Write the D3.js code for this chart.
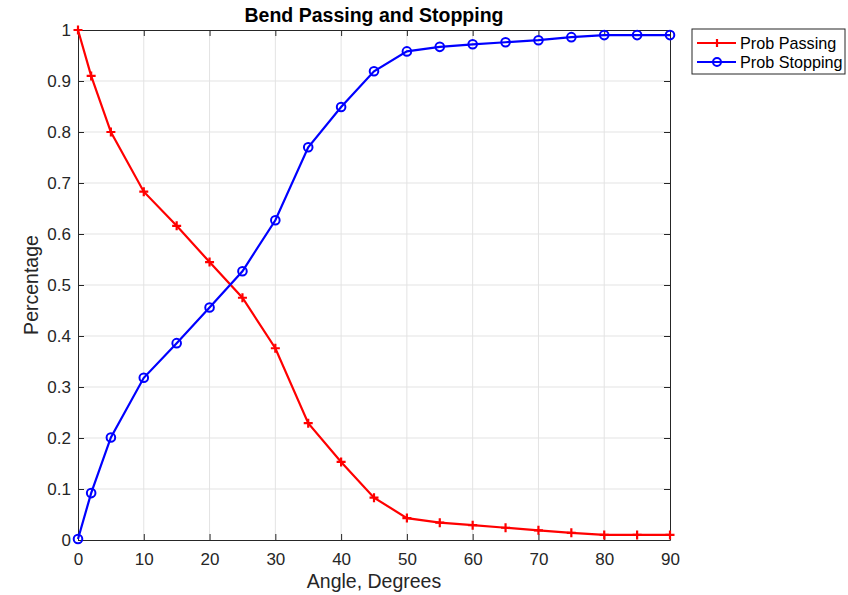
<!DOCTYPE html>
<html>
<head>
<meta charset="utf-8">
<script src="https://cdn.jsdelivr.net/npm/d3@7"></script>
<style>
  body { margin: 0; background: #fff; }
  svg { font-family: "Liberation Sans", Arial, sans-serif; }
</style>
</head>
<body>
<div id="chart"></div>
<script>
// data
var angles = [0, 2, 5, 10, 15, 20, 25, 30, 35, 40, 45, 50, 55, 60, 65, 70, 75, 80, 85, 90];
var probPassing = [1, 0.91, 0.80, 0.683, 0.616, 0.545, 0.475, 0.376, 0.229, 0.153, 0.083, 0.043, 0.034, 0.029, 0.024, 0.019, 0.014, 0.01, 0.01, 0.01];
var probStopping = [0.002, 0.092, 0.201, 0.318, 0.386, 0.456, 0.527, 0.627, 0.770, 0.849, 0.919, 0.958, 0.967, 0.972, 0.976, 0.980, 0.986, 0.990, 0.990, 0.990];
var xTicks = [0, 10, 20, 30, 40, 50, 60, 70, 80, 90];
var yTicks = [0, 0.1, 0.2, 0.3, 0.4, 0.5, 0.6, 0.7, 0.8, 0.9, 1];
var seriesNames = ["Prob Passing", "Prob Stopping"];

var margin = {top: 30, right: 178, bottom: 55, left: 78},
    width = 848 - margin.left - margin.right,
    height = 595 - margin.top - margin.bottom;

var svg = d3.select("#chart")
  .append("svg")
    .attr("width", 848)
    .attr("height", 595);

var g = svg.append("g")
    .attr("transform", "translate(" + margin.left + "," + margin.top + ")");

var x = d3.scaleLinear().domain([0, 90]).range([0, width]);
var y = d3.scaleLinear().domain([0, 1]).range([height, 0]);

// grid
g.append("g").selectAll("line")
  .data(xTicks.slice(1, -1))
  .enter().append("line")
    .attr("x1", function(d) { return x(d); })
    .attr("x2", function(d) { return x(d); })
    .attr("y1", 0).attr("y2", height)
    .attr("stroke", "#e3e3e3").attr("stroke-width", 1);
g.append("g").selectAll("line")
  .data(yTicks.slice(1, -1))
  .enter().append("line")
    .attr("y1", function(d) { return y(d); })
    .attr("y2", function(d) { return y(d); })
    .attr("x1", 0).attr("x2", width)
    .attr("stroke", "#e3e3e3").attr("stroke-width", 1);

// axes (MATLAB style, ticks inside)
function styleAxis(sel) {
  sel.selectAll("text").attr("fill", "#262626").style("font-size", "17px");
  sel.selectAll("line").attr("stroke", "#262626");
  sel.select(".domain").attr("stroke", "#262626");
}

g.append("g")
  .attr("transform", "translate(0," + height + ")")
  .call(d3.axisBottom(x).tickValues(xTicks).tickSizeInner(-6).tickSizeOuter(0).tickPadding(13))
  .call(styleAxis);
g.append("g")
  .call(d3.axisTop(x).tickValues(xTicks).tickSizeInner(-6).tickSizeOuter(0).tickFormat(""))
  .call(styleAxis);
g.append("g")
  .call(d3.axisLeft(y).tickValues(yTicks).tickSizeInner(-6).tickSizeOuter(0).tickPadding(7).tickFormat(d3.format("")))
  .call(styleAxis);
g.append("g")
  .attr("transform", "translate(" + width + ",0)")
  .call(d3.axisRight(y).tickValues(yTicks).tickSizeInner(-6).tickSizeOuter(0).tickFormat(""))
  .call(styleAxis);

// lines
var line = d3.line()
  .x(function(d) { return x(d[0]); })
  .y(function(d) { return y(d[1]); });

var passData = angles.map(function(a, i) { return [a, probPassing[i]]; });
var stopData = angles.map(function(a, i) { return [a, probStopping[i]]; });

g.append("path").datum(passData)
  .attr("fill", "none").attr("stroke", "#ff0000").attr("stroke-width", 2.2)
  .attr("d", line);
g.append("g").selectAll("path")
  .data(passData)
  .enter().append("path")
    .attr("d", function(d) {
      var cx = x(d[0]), cy = y(d[1]);
      return "M" + (cx - 4.5) + "," + cy + "H" + (cx + 4.5) + "M" + cx + "," + (cy - 4.5) + "V" + (cy + 4.5);
    })
    .attr("stroke", "#ff0000").attr("stroke-width", 2.2);

g.append("path").datum(stopData)
  .attr("fill", "none").attr("stroke", "#0000ff").attr("stroke-width", 2.2)
  .attr("d", line);
g.append("g").selectAll("circle")
  .data(stopData)
  .enter().append("circle")
    .attr("cx", function(d) { return x(d[0]); })
    .attr("cy", function(d) { return y(d[1]); })
    .attr("r", 4.3)
    .attr("fill", "none").attr("stroke", "#0000ff").attr("stroke-width", 2);

// title and labels
svg.append("text")
  .attr("x", margin.left + width / 2).attr("y", 22)
  .attr("text-anchor", "middle")
  .style("font-size", "19.5px").style("font-weight", "bold")
  .attr("fill", "#000")
  .text("Bend Passing and Stopping");

svg.append("text")
  .attr("x", margin.left + width / 2).attr("y", 588)
  .attr("text-anchor", "middle")
  .style("font-size", "19.5px")
  .attr("fill", "#262626")
  .text("Angle, Degrees");

svg.append("text")
  .attr("transform", "translate(38," + (margin.top + height / 2) + ") rotate(-90)")
  .attr("text-anchor", "middle")
  .style("font-size", "19.5px")
  .attr("fill", "#262626")
  .text("Percentage");

// legend
var lg = svg.append("g").attr("transform", "translate(692,29)");
lg.append("rect")
  .attr("width", 153).attr("height", 45)
  .attr("fill", "#fff").attr("stroke", "#262626").attr("stroke-width", 1);

var colors = ["#ff0000", "#0000ff"];
seriesNames.forEach(function(name, i) {
  var yy = 14 + i * 19;
  lg.append("line")
    .attr("x1", 5).attr("x2", 44).attr("y1", yy).attr("y2", yy)
    .attr("stroke", colors[i]).attr("stroke-width", 2.2);
  if (i == 0) {
    lg.append("path")
      .attr("d", "M20.5," + yy + "H29.5M25," + (yy - 4) + "V" + (yy + 4))
      .attr("stroke", colors[i]).attr("stroke-width", 2.2);
  } else {
    lg.append("circle")
      .attr("cx", 25).attr("cy", yy).attr("r", 4)
      .attr("fill", "none").attr("stroke", colors[i]).attr("stroke-width", 2);
  }
  lg.append("text")
    .attr("x", 48).attr("y", yy + 5.5)
    .style("font-size", "16.2px")
    .attr("fill", "#000")
    .text(name);
});
</script>
</body>
</html>
